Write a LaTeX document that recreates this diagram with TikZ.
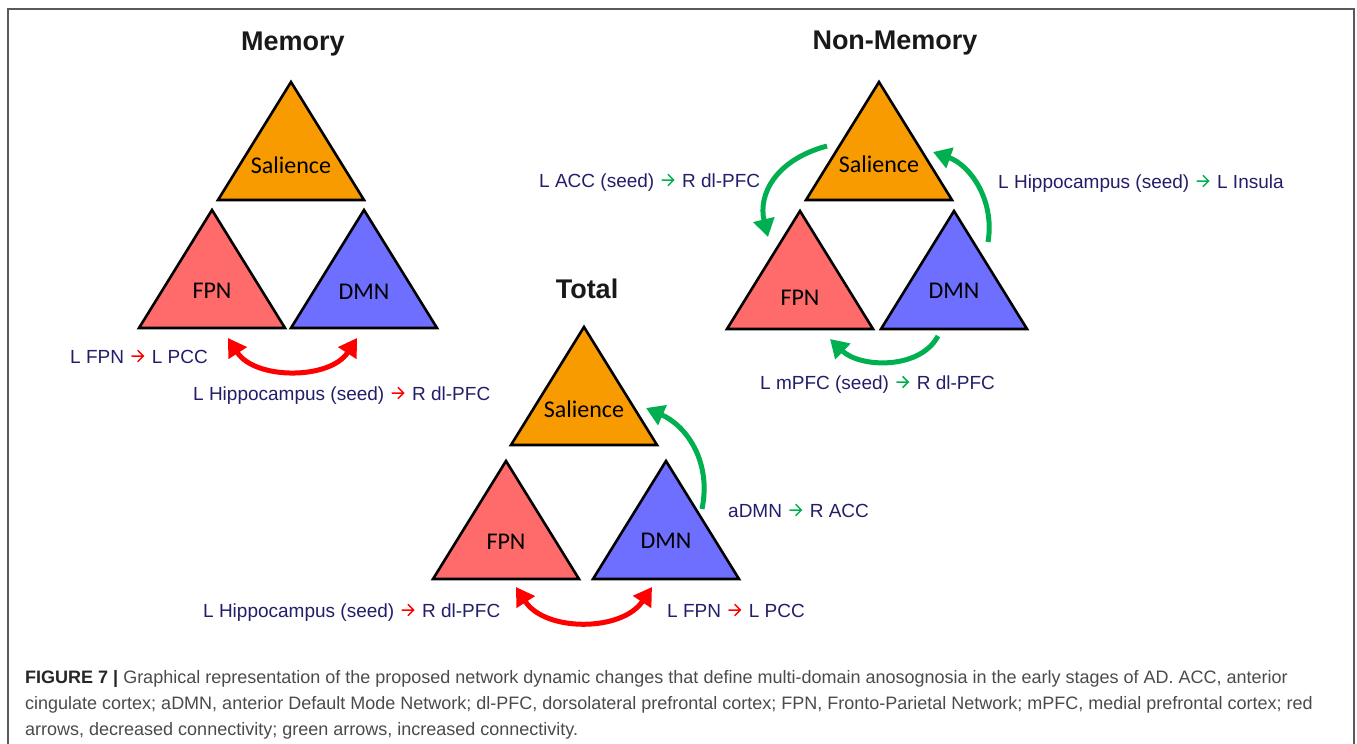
\documentclass[tikz,border=0pt]{standalone}
\usepackage{fontspec}
\setmainfont{Liberation Sans}
\newfontfamily\calfont{Carlito}
\usetikzlibrary{arrows.meta}
\definecolor{salc}{RGB}{247,155,0}
\definecolor{fpnc}{RGB}{255,106,106}
\definecolor{dmnc}{RGB}{110,110,255}
\definecolor{grn}{RGB}{0,176,80}
\definecolor{rd}{RGB}{255,0,0}
\definecolor{navy}{RGB}{35,30,105}
\definecolor{capc}{RGB}{75,75,75}
\tikzset{
  tri/.style={draw=black, line width=2.6pt, line join=miter},
  trilabel/.style={font=\calfont\fontsize{24}{28}\selectfont, inner sep=0pt, anchor=base},
  ttl/.style={font=\bfseries\fontsize{27}{32}\selectfont, text=black!90, inner sep=0pt, anchor=base},
  lbl/.style={font=\fontsize{19}{22}\selectfont, text=navy, inner sep=0pt, anchor=base west},
  captxt/.style={font=\fontsize{18}{21}\selectfont, text=capc, inner sep=0pt, anchor=base west},
  conn/.style={line width=5pt, -{Triangle[length=18pt,width=21pt]}},
  conn2/.style={line width=5pt, {Triangle[length=18pt,width=21pt]}-{Triangle[length=18pt,width=21pt]}},
}
\newcommand\ra[1]{\hspace{1.5pt}\tikz[baseline=0pt,x=1pt,y=1pt]{\path (-1,0) rectangle (13,13); \draw[#1, line width=1.5pt, line cap=round, line join=miter] (0,7) -- (11.5,7) (6,1.5) -- (11.5,7) -- (6,12.5);}\hspace{7pt}\ignorespaces}
% name, apex x, apex y, fill, label, label baseline y
\newcommand\nettri[6]{%
  \coordinate (#1-a) at (#2,#3);
  \coordinate (#1-l) at ({#2-73},{#3+118});
  \coordinate (#1-r) at ({#2+73},{#3+118});
  \draw[tri, fill=#4] (#1-a) -- (#1-l) -- (#1-r) -- cycle;
  \node[trilabel] (#1) at (#2,#6) {#5};
}
\begin{document}
\begin{tikzpicture}[x=1pt,y=-1pt]
\useasboundingbox (0,0) rectangle (1357,744);
\fill[white] (0,0) rectangle (1357,744);
\draw[black!65, line width=1.3pt] (8,9) rectangle (1354,770);

% ---------- Memory ----------
\node[ttl] (memt) at (293,50) {Memory};
\nettri{msal}{291}{82}{salc}{Salience}{173}
\nettri{mfpn}{212}{210}{fpnc}{FPN}{298}
\nettri{mdmn}{364}{210}{dmnc}{DMN}{299}
\coordinate (m-aL) at (228,338);
\coordinate (m-aR) at (357,338);
\draw[conn2, rd] (m-aL) .. controls +(27,42) and +(-27,42) .. (m-aR);
\node[lbl] (ml1) at (70,363) {L FPN \ra{rd} L PCC};
\node[lbl] (ml2) at (193,400) {L Hippocampus (seed) \ra{rd} R dl-PFC};

% ---------- Non-Memory ----------
\node[ttl] (nmt) at (895,49) {Non-Memory};
\nettri{nsal}{879}{82}{salc}{Salience}{172}
\nettri{nfpn}{800}{211}{fpnc}{FPN}{305}
\nettri{ndmn}{954}{211}{dmnc}{DMN}{298}
\coordinate (n-acc1) at (827,146);
\coordinate (n-acc2) at (768,237);
\draw[conn, grn] (n-acc1) .. controls +(-52,14) and +(-10,-42) .. (n-acc2);
\coordinate (n-hip1) at (988,242);
\coordinate (n-hip2) at (933,152);
\draw[conn, grn] (n-hip1) .. controls +(7,-42) and +(37,13) .. (n-hip2);
\coordinate (n-mp1) at (938,336);
\coordinate (n-mp2) at (830,339);
\draw[conn, grn] (n-mp1) .. controls +(-18,34) and +(30,29) .. (n-mp2);
\node[lbl] (nl1) at (539,187) {L ACC (seed) \ra{grn} R dl-PFC};
\node[lbl] (nl2) at (998,188) {L Hippocampus (seed) \ra{grn} L Insula};
\node[lbl] (nl3) at (760,389) {L mPFC (seed) \ra{grn} R dl-PFC};

% ---------- Total ----------
\node[ttl] (tt) at (587,298) {Total};
\nettri{tsal}{584}{327}{salc}{Salience}{417}
\nettri{tfpn}{506}{461}{fpnc}{FPN}{549}
\nettri{tdmn}{666}{461}{dmnc}{DMN}{548}
\coordinate (t-g1) at (702,509);
\coordinate (t-g2) at (646,408);
\draw[conn, grn] (t-g1) .. controls +(10,-49) and +(39,17) .. (t-g2);
\coordinate (t-aL) at (516,587);
\coordinate (t-aR) at (652,587);
\draw[conn2, rd] (t-aL) .. controls +(29,45) and +(-30,45) .. (t-aR);
\node[lbl] (tl1) at (728,517) {aDMN \ra{grn} R ACC};
\node[lbl] (tl2) at (203,617) {L Hippocampus (seed) \ra{rd} R dl-PFC};
\node[lbl] (tl3) at (667,617) {L FPN \ra{rd} L PCC};

% ---------- Caption ----------
\node[captxt] (c1) at (25,683) {\textbf{\color{black!85}FIGURE 7 |} Graphical representation of the proposed network dynamic changes that define multi-domain anosognosia in the early stages of AD. ACC, anterior};
\node[captxt] (c2) at (25,709) {cingulate cortex; aDMN, anterior Default Mode Network; dl-PFC, dorsolateral prefrontal cortex; FPN, Fronto-Parietal Network; mPFC, medial prefrontal cortex; red};
\node[captxt] (c3) at (25,735) {arrows, decreased connectivity; green arrows, increased connectivity.};
\end{tikzpicture}
\end{document}
